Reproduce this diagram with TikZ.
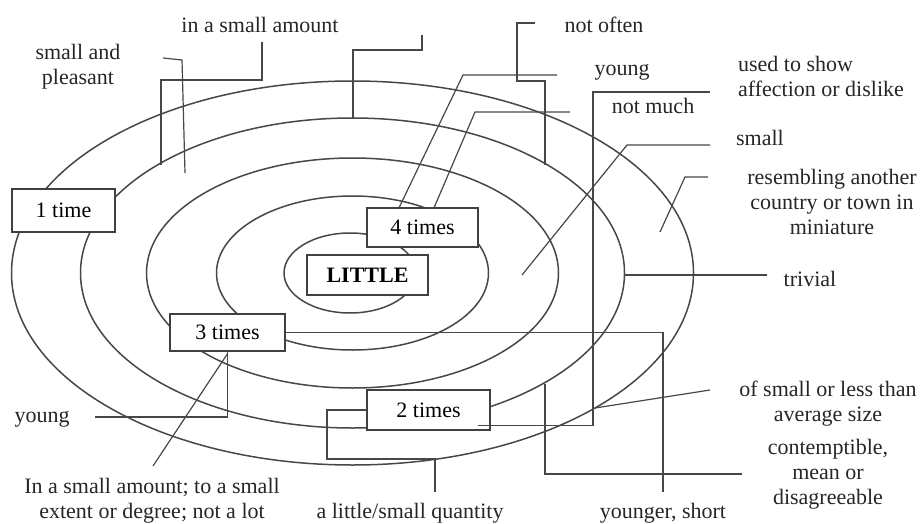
\documentclass[tikz,border=0pt]{standalone}
\usepackage{fontspec}
\setmainfont{Liberation Serif}
\usetikzlibrary{positioning}
\tikzset{
  ring/.style={draw=black!72,line width=0.75pt},
  timebox/.style={
    draw=black!75,
    fill=white,
    line width=0.75pt,
    inner sep=0pt,
    font=\fontsize{11}{12.5}\selectfont
  },
  meaning/.style={align=center,inner sep=1pt,text=black!85,font=\fontsize{11}{12.5}\selectfont},
  link/.style={draw=black!72,line width=0.6pt}
}
\begin{document}
\begin{tikzpicture}[x=0.5pt,y=-0.5pt]
\useasboundingbox (0,0) rectangle (920,524);
% rings round the word
\foreach \rx/\ry in {341/192,272/155,206/115,136/77}
  \draw[ring] (352.5,273) ellipse [x radius=\rx,y radius=\ry];
\draw[ring] (350,273) ellipse [x radius=66,y radius=40];
% boxes
\node[timebox,minimum width=51.5pt,minimum height=21.5pt] (times1) at (63.5,210.5) {1 time};
\node[timebox,minimum width=55.5pt,minimum height=19.5pt] (times4) at (422.5,227.5) {4 times};
\node[timebox,minimum width=60.5pt,minimum height=20pt,font=\fontsize{11}{12.5}\selectfont\bfseries] (little) at (367.5,275) {LITTLE};
\node[timebox,minimum width=57.5pt,minimum height=18.5pt] (times3) at (227.5,332.5) {3 times};
\node[timebox,minimum width=61.5pt,minimum height=20pt] (times2) at (428.5,410) {2 times};
% meanings
\node[meaning] (amt) at (260,25) {in a small amount};
\node[meaning] (pleas) at (78,67) {small and\\pleasant};
\node[meaning] (often) at (604,25) {not often};
\node[meaning] (youngT) at (622,72) {young};
\node[meaning] (much) at (653,106) {not much};
\node[meaning,align=left] (affect) at (821,76) {used to show\\affection or dislike};
\node[meaning] (smallR) at (760,138) {small};
\node[meaning] (resemb) at (832,202) {resembling another\\country or town in\\miniature};
\node[meaning] (trivial) at (810,279) {trivial};
\node[meaning] (avgsize) at (828,404) {of small or less than\\average size};
\node[meaning] (contempt) at (828,474) {contemptible,\\mean or\\disagreeable};
\node[meaning] (younger) at (663,513) {younger, short};
\node[meaning] (quantity) at (410,513) {a little/small quantity};
\node[meaning] (degree) at (152,501) {In a small amount; to a small\\extent or degree; not a lot};
\node[meaning] (youngL) at (42,419) {young};
% line ends
\coordinate (amtFoot) at (262,42);
\coordinate (amtTip) at (161,165);
\coordinate (pleasFoot) at (163,58);
\coordinate (pleasTip) at (185,173);
\coordinate (topFoot) at (422,35);
\coordinate (topTip) at (353,118);
\coordinate (youngTFoot) at (557,75);
\coordinate (muchFoot) at (570,112);
\coordinate (oftenFoot) at (535,23);
\coordinate (oftenTip) at (545,165);
\coordinate (affectFoot) at (710,92);
\coordinate (smallFoot) at (710,145);
\coordinate (smallTip) at (522,275);
\coordinate (resembFoot) at (708,177);
\coordinate (resembTip) at (660,232);
\coordinate (trivialFoot) at (767,275);
\coordinate (trivialTip) at (625,275);
\coordinate (avgFoot) at (710,390);
\coordinate (avgTip) at (595,408);
\coordinate (contemptFoot) at (742,474);
\coordinate (contemptTip) at (545,384);
\coordinate (youngerFoot) at (663,492);
\coordinate (quantityFoot) at (435,492);
\coordinate (youngLFoot) at (95,417);
\coordinate (degreeFoot) at (153,466);
% connectors
\draw[link] (amtFoot) -- (262,80) -| (amtTip);
\draw[link] (pleasFoot) -- (182,60) -- (pleasTip);
\draw[link] (topFoot) -- (422,50) -| (topTip);
\draw[link] ([xshift=16.5pt]times4.north west) -- (463,75) -- (youngTFoot);
\draw[link] ([xshift=34pt]times4.north west) -- (475,112) -- (muchFoot);
\draw[link] (oftenFoot) -- (517,23) -- (517,81) -| (oftenTip);
\draw[link] (affectFoot) -- (593,92) |- ([xshift=-6.5pt,yshift=2.5pt]times2.south east);
\draw[link] (smallFoot) -- (627,145) -- (smallTip);
\draw[link] (resembFoot) -- (685,177) -- (resembTip);
\draw[link] (trivialFoot) -- (trivialTip);
\draw[link] (avgFoot) -- (avgTip);
\draw[link] (contemptFoot) -| (contemptTip);
\draw[link] (times3.east) -| (youngerFoot);
\draw[link] (times2.west) -- (327,410) |- (435,459) -- (quantityFoot);
\draw[link] (youngLFoot) -| (times3.south);
\draw[link] (degreeFoot) -- ([yshift=-1pt]times3.south);
\end{tikzpicture}
\end{document}
